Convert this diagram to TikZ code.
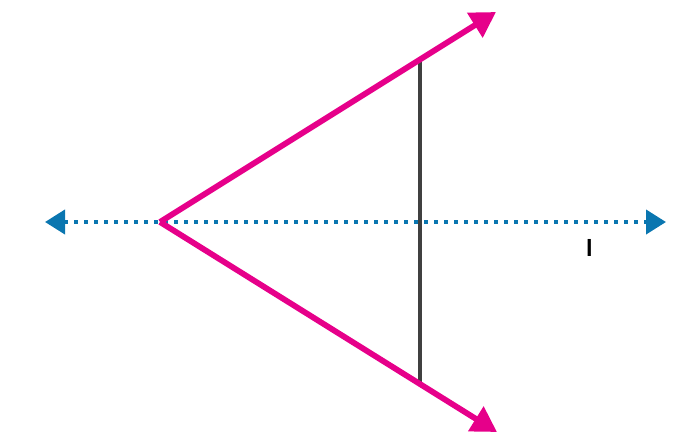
\documentclass[tikz,border=0pt]{standalone}
\usepackage{fontspec}
\setmainfont{Liberation Sans}
\usetikzlibrary{arrows.meta}
\definecolor{pinkray}{HTML}{E6008A}
\definecolor{blueline}{HTML}{0A76B0}
\definecolor{grayseg}{HTML}{404040}
\begin{document}
\begin{tikzpicture}[x=1pt,y=-1pt,
  ray/.style={draw=pinkray,line width=5.8pt,-{Triangle[length=25pt,width=28pt]}},
  axisline/.style={draw=blueline,line width=4pt,dash pattern=on 4.3pt off 5.7pt,
    {Triangle[length=20pt,width=24pt]}-{Triangle[length=20pt,width=24pt]}},
  seg/.style={draw=grayseg,line width=3.6pt},
  lbl/.style={font=\bfseries\fontsize{23.5}{26}\selectfont,inner sep=0pt}]
\useasboundingbox (0,0) rectangle (679,445);
\coordinate (L) at (45,222);
\coordinate (R) at (666,222);
\coordinate (V) at (160,222);
\coordinate (A) at (496,12);
\coordinate (B) at (497,432);
\coordinate (P) at (420,60);
\coordinate (Q) at (420,383);
\draw[axisline] (L) -- (R);
\draw[seg] (P) -- (Q);
\draw[ray] (V) -- (A);
\draw[ray] (V) -- (B);
\node[lbl] (lab) at (589.5,247.5) {l};
\end{tikzpicture}
\end{document}
